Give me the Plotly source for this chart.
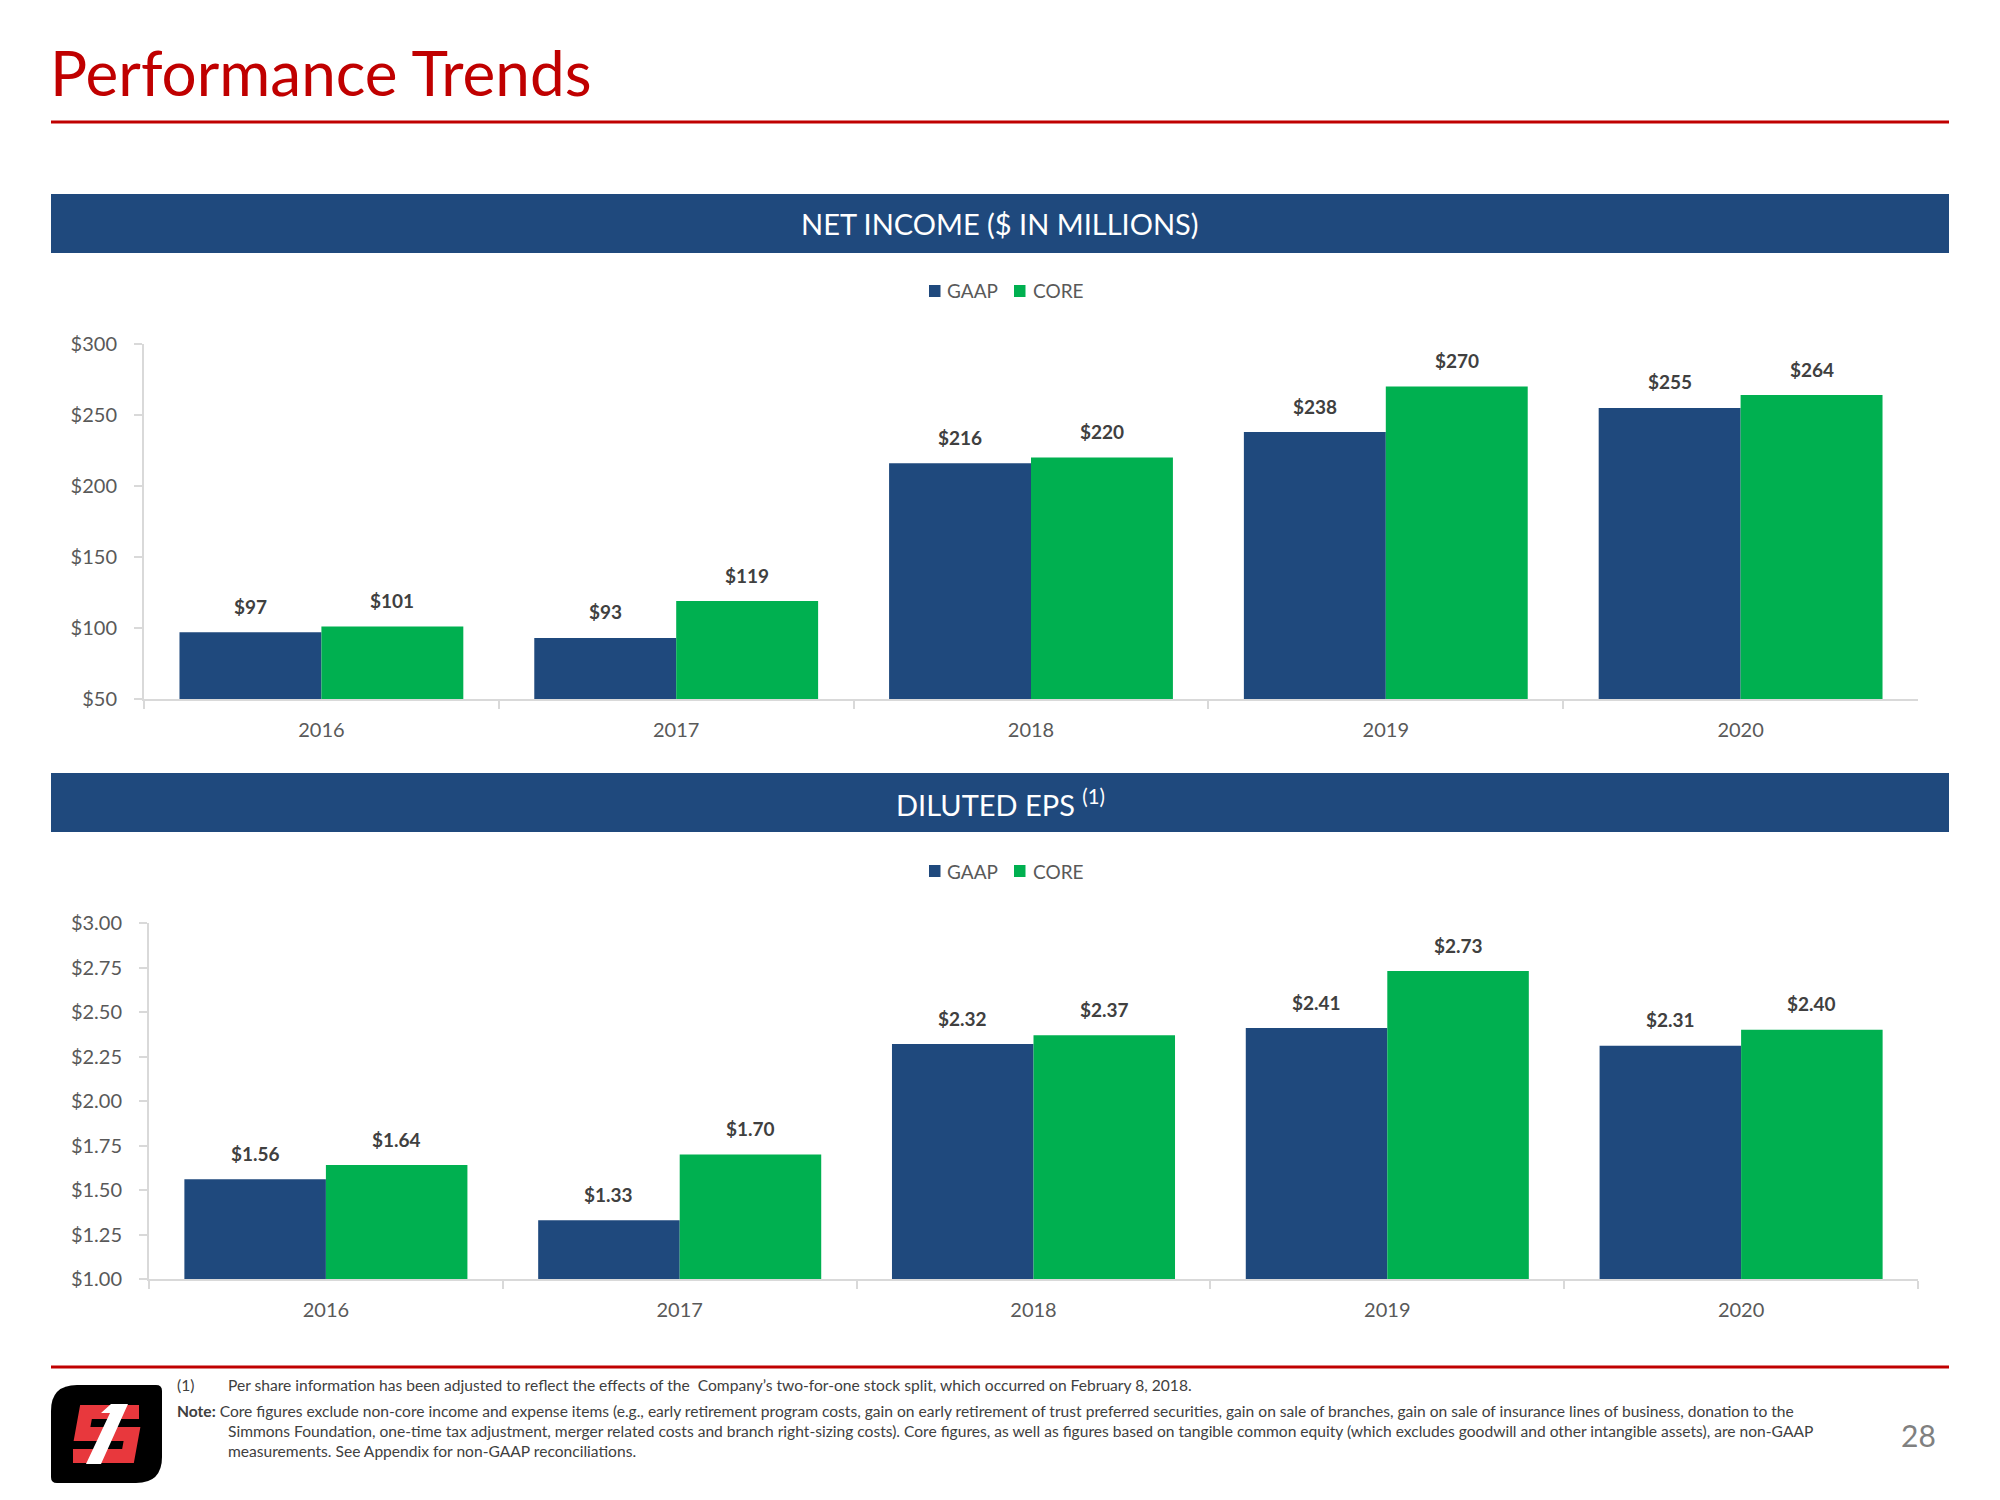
import plotly.graph_objects as go

# ---------------- data ----------------
years = ["2016", "2017", "2018", "2019", "2020"]
series_names = ["GAAP", "CORE"]
net_gaap = [97, 93, 216, 238, 255]
net_core = [101, 119, 220, 270, 264]
eps_gaap = [1.56, 1.33, 2.32, 2.41, 2.31]
eps_core = [1.64, 1.70, 2.37, 2.73, 2.40]

footnote_1 = ("Per share information has been adjusted to reflect the effects of the  Company\u2019s "
              "two-for-one stock split, which occurred on February 8, 2018.")
note_lines = [
    "<b>Note:</b> Core figures exclude non-core income and expense items (e.g., early retirement program costs, "
    "gain on early retirement of trust preferred securities, gain on sale of branches, gain on sale of insurance "
    "lines of business, donation to the",
    "Simmons Foundation, one-time tax adjustment, merger related costs and branch right-sizing costs). Core figures, "
    "as well as figures based on tangible common equity (which excludes goodwill and other intangible assets), are non-GAAP",
    "measurements. See Appendix for non-GAAP reconciliations.",
]

# ---------------- style ----------------
OX, OY = 8, 8            # page body margin
FW, FH = 1984, 1484      # figure size so that it fits the window
BLUE = "#1F497D"
GREEN = "#00B050"
RED = "#C00000"
AXIS = "#D9D9D9"
TICK = "#595959"
LABEL = "#404040"
FONT = "Lato"


def px(x):
    return (x - OX) / FW


def py(y):
    return 1 - (y - OY) / FH


fig = go.Figure()
colors = [BLUE, GREEN]
for i, vals in enumerate([net_gaap, net_core]):
    fig.add_trace(go.Bar(x=years, y=vals, name=series_names[i], marker=dict(color=colors[i], line_width=0),
                         xaxis="x", yaxis="y", showlegend=False))
for i, vals in enumerate([eps_gaap, eps_core]):
    fig.add_trace(go.Bar(x=years, y=vals, name=series_names[i], marker=dict(color=colors[i], line_width=0),
                         xaxis="x2", yaxis="y2", showlegend=False))

# plot areas (screen pixels)
c1 = dict(x0=144, x1=1918, y0=344, y1=699)
c2 = dict(x0=149, x1=1918, y0=923, y1=1279)

xcommon = dict(type="category", range=[-0.5, 4.5], showline=True, linecolor=AXIS, linewidth=2,
               ticks="outside", tickson="boundaries", ticklen=8, tickcolor=AXIS, tickwidth=2,
               tickfont=dict(family=FONT, size=20, color=TICK), showgrid=False, zeroline=False,
               ticklabelstandoff=12, fixedrange=True, automargin=False)
ycommon = dict(showline=True, linecolor=AXIS, linewidth=2, ticks="outside", ticklen=8, tickcolor=AXIS,
               tickwidth=2, tickfont=dict(family=FONT, size=20, color=TICK), showgrid=False,
               zeroline=False, tickprefix="$", ticklabelstandoff=13, fixedrange=True, automargin=False)

fig.update_layout(
    width=FW, height=FH, margin=dict(l=0, r=0, t=0, b=0, pad=0, autoexpand=False),
    paper_bgcolor="white", plot_bgcolor="white",
    barmode="group", bargap=0.2, bargroupgap=0,
    font=dict(family=FONT),
    showlegend=False,
    xaxis=dict(domain=[px(c1["x0"]), px(c1["x1"])], anchor="y", **xcommon),
    yaxis=dict(domain=[py(c1["y1"]), py(c1["y0"])], anchor="x", range=[50, 300], tick0=50, dtick=50, **ycommon),
    xaxis2=dict(domain=[px(c2["x0"]), px(c2["x1"])], anchor="y2", **xcommon),
    yaxis2=dict(domain=[py(c2["y1"]), py(c2["y0"])], anchor="x2", range=[1, 3], tick0=1, dtick=0.25,
                tickformat=".2f", **ycommon),
)

shapes = []
annotations = []

# title and rules
annotations.append(dict(text="Performance Trends", x=px(48), y=py(72), xref="paper", yref="paper",
                        xanchor="left", yanchor="middle", showarrow=False,
                        font=dict(family=FONT, size=62, color=RED)))
shapes.append(dict(type="line", xref="paper", yref="paper", x0=px(51), x1=px(1949), y0=py(122), y1=py(122),
                   line=dict(color=RED, width=3)))
shapes.append(dict(type="line", xref="paper", yref="paper", x0=px(51), x1=px(1949), y0=py(1367), y1=py(1367),
                   line=dict(color=RED, width=3)))

# header bars
for (ya, yb, txt) in [(194, 253, "NET INCOME ($ IN MILLIONS)"), (773, 832, "DILUTED EPS <sup>(1)</sup>")]:
    shapes.append(dict(type="rect", xref="paper", yref="paper", x0=px(51), x1=px(1949), y0=py(yb), y1=py(ya),
                       fillcolor=BLUE, line_width=0, layer="below"))
    annotations.append(dict(text=txt, x=px(1000), y=py((ya + yb) / 2), xref="paper", yref="paper",
                            xanchor="center", yanchor="middle", showarrow=False,
                            font=dict(family=FONT, size=29, color="white")))

# legends (drawn as key squares + text)
for ly in (291, 871):
    for (sx, tx, col, name) in [(929, 945, BLUE, series_names[0]), (1014, 1031, GREEN, series_names[1])]:
        shapes.append(dict(type="rect", xref="paper", yref="paper", x0=px(sx), x1=px(sx + 11.5),
                           y0=py(ly + 6), y1=py(ly - 6), fillcolor=col, line_width=0))
        annotations.append(dict(text=name, x=px(tx), y=py(ly), xref="paper", yref="paper", xanchor="left",
                                yanchor="middle", showarrow=False, font=dict(family=FONT, size=19, color=TICK)))

# data labels (numeric category positions: index -/+ 0.2 is the centre of each grouped bar)
label_font = dict(family=FONT, size=19, color=LABEL)
for vals, off in [(net_gaap, -0.2), (net_core, 0.2)]:
    for i, v in enumerate(vals):
        annotations.append(dict(text=f"<b>${v}</b>", x=i + off, y=v, xref="x", yref="y",
                                yshift=26, yanchor="middle", xanchor="center", showarrow=False, font=label_font))
for vals, off in [(eps_gaap, -0.2), (eps_core, 0.2)]:
    for i, v in enumerate(vals):
        annotations.append(dict(text=f"<b>${v:.2f}</b>", x=i + off, y=v, xref="x2", yref="y2",
                                yshift=26, yanchor="middle", xanchor="center", showarrow=False, font=label_font))

# footnotes
fn_font = dict(family=FONT, size=15.6, color="#404040")
annotations.append(dict(text="(1)", x=px(175), y=py(1385), xref="paper", yref="paper", xanchor="left",
                        yanchor="middle", showarrow=False, font=fn_font))
annotations.append(dict(text=footnote_1, x=px(226), y=py(1385), xref="paper", yref="paper", xanchor="left",
                        yanchor="middle", showarrow=False, font=fn_font))
for (xx, yy, t) in [(175, 1411, note_lines[0]), (226, 1431, note_lines[1]), (226, 1451, note_lines[2])]:
    annotations.append(dict(text=t, x=px(xx), y=py(yy), xref="paper", yref="paper", xanchor="left",
                            yanchor="middle", showarrow=False, font=fn_font))

# page number
annotations.append(dict(text="28", x=px(1918), y=py(1435), xref="paper", yref="paper", xanchor="center",
                        yanchor="middle", showarrow=False, font=dict(family=FONT, size=30, color="#808080")))


# logo
def path(points, close=True):
    s = "M " + " L ".join(f"{px(x):.5f},{py(y):.5f}" for x, y in points)
    return s + (" Z" if close else "")


def rounded_logo(x0, y0, x1, y1, r_big, r_small):
    p = [f"M {px(x0 + r_big):.5f},{py(y0):.5f}",
         f"L {px(x1 - r_small):.5f},{py(y0):.5f}",
         f"Q {px(x1):.5f},{py(y0):.5f} {px(x1):.5f},{py(y0 + r_small):.5f}",
         f"L {px(x1):.5f},{py(y1 - r_big):.5f}",
         f"Q {px(x1):.5f},{py(y1):.5f} {px(x1 - r_big):.5f},{py(y1):.5f}",
         f"L {px(x0 + r_small):.5f},{py(y1):.5f}",
         f"Q {px(x0):.5f},{py(y1):.5f} {px(x0):.5f},{py(y1 - r_small):.5f}",
         f"L {px(x0):.5f},{py(y0 + r_big):.5f}",
         f"Q {px(x0):.5f},{py(y0):.5f} {px(x0 + r_big):.5f},{py(y0):.5f} Z"]
    return " ".join(p)


shapes.append(dict(type="path", xref="paper", yref="paper", path=rounded_logo(51, 1385, 162, 1483, 26, 6),
                   fillcolor="#000000", line_width=0))
shapes.append(dict(type="path", xref="paper", yref="paper",
                   path=path([(139, 1412), (86, 1412), (82, 1434), (132, 1434), (128, 1456), (73, 1456)], close=False),
                   line=dict(color="#E8383D", width=14), fillcolor="rgba(0,0,0,0)"))
shapes.append(dict(type="path", xref="paper", yref="paper",
                   path=path([(86, 1464), (101, 1464), (128, 1404), (111, 1404), (101, 1413), (110, 1413)]),
                   fillcolor="white", line_width=0))

fig.update_layout(shapes=shapes, annotations=annotations)
fig.write_html("out.html")
